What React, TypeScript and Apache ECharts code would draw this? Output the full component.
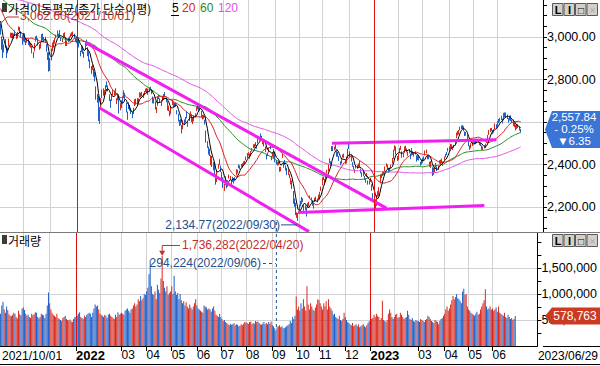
import React, { useEffect, useRef } from "react";
import * as echarts from "echarts";

// ---- categories: KRX trading days (weekends and these market holidays excluded)
const holidays = [
  "2021/10/04", "2021/10/11", "2021/12/31",
  "2022/01/31", "2022/02/01", "2022/02/02", "2022/03/01", "2022/03/09", "2022/05/05",
  "2022/06/01", "2022/06/06", "2022/08/15", "2022/09/09", "2022/09/12", "2022/10/03",
  "2022/10/10", "2022/12/30",
  "2023/01/23", "2023/01/24", "2023/03/01", "2023/05/01", "2023/05/05", "2023/05/29", "2023/06/06",
];
const firstDay = [2021, 10, 1];
const lastDay = [2023, 6, 29];
const padSlots = 18;

// closes before the visible range (used only for the moving averages)
const preCloses = [
  3135, 3169, 3182, 3194, 3198, 3198, 3220, 3171, 3177, 3186, 3217, 3215, 3181, 3174, 3147,
  3127, 3147, 3178, 3197, 3249, 3209, 3161, 3122, 3153, 3134, 3173, 3162, 3156, 3144, 3133, 3165, 3188, 3204, 3210,
  3221, 3224, 3247, 3240, 3252, 3247, 3216, 3224, 3249, 3258, 3278, 3264, 3267, 3268, 3240, 3264, 3276, 3286, 3302, 3296, 3286, 3296,
  3282, 3281, 3293, 3305, 3285, 3252, 3217, 3246, 3271, 3264, 3286, 3276, 3244, 3232, 3215, 3250, 3254, 3224, 3232, 3236, 3243, 3202,
  3223, 3237, 3280, 3276, 3270, 3270, 3260, 3243, 3208, 3171, 3143, 3158, 3097, 3060, 3090, 3138, 3128, 3133, 3148, 3144, 3172, 3199,
  3207, 3175, 3201, 3203, 3187, 3162, 3114, 3125, 3127, 3148, 3130, 3140, 3127, 3125, 3128, 3133, 3097, 3060, 3068,
];

// [open, close, low, high]
const ohlc2021 = [
  [3053,3019,3011,3062.6],[2995,2962,2940,3003],[2973,2908,2901,2990],[2933,2959,2927,2965],[2975,2956,2950,2990],
  [2957,2916,2901,2960],[2931,2944,2924,2950],[2959,2988,2956,2992],[3003,3015,2997,3020],[3016,3006,2994,3020],
  [3008,3013,2996,3020],[3004,3013,2990,3016],[3018,3007,3003,3031],[3005,3006,2990,3016],[3002,3020,2994,3024],
  [3037,3049,3030,3050],[3047,3025,3017,3047],[3019,3009,2999,3027],[3003,2970,2963,3008],
  [2982,3013,2979,3019],[3013,2976,2975,3017],[2979,2975,2962,2984],[2982,2983,2973,2995],[2990,2969,2962,2991],
  [2975,2960,2955,2980],[2958,2962,2950,2972],[2956,2930,2923,2959],[2920,2924,2901,2930],[2935,2968,2932,2972],
  [2983,2999,2978,3003],[3004,2997,2988,3007],[2990,2962,2960,2994],[2956,2947,2940,2966],[2958,2971,2946,2974],
  [2980,3013,2977,3014],[3011,2997,2984,3016],[2993,2994,2978,3000],[2999,2980,2972,3001],[2964,2936,2931,2966],
  [2910,2909,2892,2928],[2915,2839,2837,2928],
  [2850,2899,2840,2902],[2901,2945,2890,2946],[2950,2968,2934,2974],[2970,2973,2950,2985],[2975,2991,2969,2995],
  [3010,3001,2993,3011],[3004,3029,3003,3031],[3010,3010,2995,3016],[3020,3001,2998,3033],[2995,2987,2981,3000],
  [2988,2989,2976,2993],[3004,3006,2998,3018],[3008,3017,2999,3022],[2998,2963,2957,2998],[2960,2975,2958,2982],
  [2985,2984,2976,2996],[2989,2998,2980,3003],[3006,3012,3000,3016],[3008,3020,3004,3022],[3019,3020,3006,3026],
  [3014,2993,2993,3015],[2990,2977,2976,2995],
];
const ohlc2022 = [
  [2995,2989,2971,2995],[2990,2990,2976,2998],[2986,2953,2951,2986],[2935,2920,2909,2935],[2933,2954,2929,2962],
  [2952,2927,2921,2953],[2920,2927,2902,2931],[2943,2972,2939,2975],[2977,2962,2958,2988],[2950,2921,2910,2952],
  [2921,2890,2885,2932],[2883,2864,2853,2894],[2852,2842,2826,2863],[2857,2862,2845,2870],[2847,2834,2813,2850],
  [2829,2792,2791,2836],[2767,2720,2705,2768],[2730,2709,2691,2732],[2719,2614,2605,2722],[2598,2663,2591,2670],
  [2672,2707,2670,2712],[2717,2750,2713,2753],[2752,2745,2724,2758],[2740,2746,2727,2750],[2752,2768,2745,2773],
  [2782,2771,2763,2791],[2761,2747,2744,2772],[2720,2704,2699,2730],[2701,2676,2667,2706],[2704,2729,2699,2733],
  [2738,2744,2727,2753],[2735,2744,2726,2748],[2742,2743,2732,2759],[2703,2706,2684,2712],[2713,2719,2702,2729],
  [2709,2648,2640,2719],[2663,2676,2655,2689],[2671,2699,2666,2702],
  [2709,2703,2687,2718],[2716,2747,2712,2749],[2726,2713,2706,2737],[2683,2651,2645,2690],[2638,2622,2610,2649],
  [2682,2680,2661,2693],[2670,2661,2653,2680],[2650,2645,2637,2664],[2634,2622,2618,2647],[2650,2659,2637,2667],
  [2681,2694,2675,2707],[2690,2707,2681,2710],[2703,2686,2681,2712],[2698,2708,2688,2711],[2721,2736,2715,2740],
  [2723,2729,2715,2738],[2737,2730,2721,2742],[2718,2729,2713,2735],[2730,2741,2726,2746],[2756,2746,2741,2757],
  [2743,2757,2735,2760],
  [2752,2739,2728,2757],[2748,2757,2740,2763],[2761,2759,2750,2766],[2746,2736,2731,2752],[2718,2695,2688,2720],
  [2702,2700,2687,2711],[2691,2666,2659,2697],[2658,2666,2642,2671],[2681,2716,2676,2719],[2723,2716,2708,2727],
  [2707,2696,2690,2712],[2690,2693,2675,2698],[2700,2718,2697,2722],[2708,2718,2704,2731],[2733,2728,2721,2741],
  [2715,2704,2693,2716],[2697,2657,2654,2698],[2660,2668,2651,2677],[2650,2639,2627,2654],[2642,2667,2636,2673],
  [2686,2695,2680,2703],
  [2685,2688,2669,2693],[2681,2680,2669,2690],[2688,2677,2672,2690],[2645,2644,2636,2656],[2633,2610,2603,2640],
  [2598,2596,2582,2610],[2603,2592,2584,2613],[2573,2550,2546,2586],[2566,2604,2566,2608],[2608,2596,2586,2612],
  [2601,2620,2596,2624],[2636,2625,2617,2648],[2589,2592,2577,2600],[2611,2639,2605,2640],[2635,2647,2627,2650],
  [2635,2605,2600,2637],[2600,2617,2590,2620],[2626,2612,2603,2631],[2627,2638,2622,2641],[2655,2670,2651,2673],
  [2672,2685,2660,2689],
  [2664,2658,2652,2673],[2672,2670,2657,2681],[2646,2626,2622,2653],[2625,2626,2612,2633],[2622,2625,2615,2634],
  [2604,2595,2588,2611],[2557,2504,2503,2560],[2487,2492,2478,2510],[2477,2447,2447,2484],[2465,2451,2440,2474],
  [2405,2440,2396,2444],[2438,2391,2388,2440],[2392,2408,2372,2411],[2401,2342,2342,2410],[2333,2314,2305,2354],
  [2329,2366,2318,2368],[2392,2401,2380,2403],[2400,2422,2397,2425],[2383,2377,2365,2395],[2360,2332,2325,2365],
  [2334,2305,2289,2340],[2296,2300,2276,2310],[2310,2341,2304,2344],[2317,2292,2288,2325],[2300,2324,2295,2326],
  [2338,2350,2334,2353],[2336,2340,2327,2346],[2319,2317,2305,2328],[2333,2328,2318,2342],[2320,2322,2310,2336],
  [2333,2330,2322,2340],[2352,2376,2350,2378],[2360,2370,2358,2376],[2396,2386,2383,2400],[2386,2393,2377,2396],
  [2401,2393,2388,2403],[2393,2404,2384,2406],[2398,2412,2396,2415],[2410,2415,2402,2418],[2434,2435,2420,2438],
  [2440,2451,2430,2454],
  [2450,2452,2442,2458],[2441,2439,2427,2452],[2446,2461,2438,2463],[2470,2473,2461,2477],[2481,2490,2477,2495],
  [2483,2493,2479,2497],[2490,2503,2487,2505],[2485,2480,2474,2491],[2500,2523,2499,2526],[2520,2527,2512,2530],
  [2536,2533,2521,2546],[2528,2516,2511,2535],[2507,2508,2495,2512],[2510,2492,2485,2512],[2474,2462,2458,2485],
  [2442,2435,2424,2449],[2450,2447,2440,2457],[2458,2477,2457,2478],[2482,2481,2472,2489],[2432,2426,2420,2441],
  [2441,2450,2436,2456],[2435,2472,2429,2473],
  [2459,2415,2410,2461],[2413,2409,2400,2421],[2407,2403,2395,2412],[2404,2410,2396,2416],[2383,2376,2366,2389],
  [2381,2384,2368,2389],[2437,2449,2431,2450],[2390,2411,2385,2412],[2419,2401,2397,2421],[2388,2382,2371,2396],
  [2371,2355,2350,2384],[2366,2367,2350,2377],[2349,2347,2336,2355],[2314,2332,2306,2337],[2324,2290,2285,2325],
  [2274,2220,2215,2275],[2225,2223,2201,2240],[2210,2169,2162,2220],[2155,2170,2149,2175],[2169,2155,2134.77,2172],
  [2184,2209,2182,2212],[2218,2215,2203,2229],[2215,2237,2213,2247],[2233,2232,2224,2241],[2198,2192,2182,2210],
  [2190,2202,2185,2207],[2195,2162,2155,2199],[2200,2212,2196,2219],[2207,2219,2203,2225],[2241,2249,2239,2254],
  [2232,2237,2226,2245],[2220,2218,2206,2232],[2197,2213,2192,2219],[2231,2236,2224,2243],[2241,2235,2229,2249],
  [2229,2235,2222,2240],[2245,2246,2236,2258],[2250,2268,2243,2272],[2281,2293,2276,2296],
  [2306,2335,2303,2339],[2335,2337,2327,2343],[2307,2329,2305,2332],[2326,2348,2318,2352],[2361,2371,2358,2375],
  [2370,2399,2368,2403],[2410,2424,2406,2429],[2411,2402,2393,2415],[2469,2483,2463,2487],[2474,2474,2463,2486],
  [2477,2480,2467,2485],[2490,2477,2471,2495],[2462,2442,2437,2465],[2449,2444,2436,2459],[2438,2419,2417,2440],
  [2410,2405,2397,2415],[2412,2418,2404,2425],[2437,2441,2432,2447],[2446,2437,2432,2451],[2418,2408,2402,2421],
  [2410,2433,2405,2437],[2437,2472,2432,2474],
  [2486,2479,2473,2501],[2458,2434,2431,2462],[2436,2419,2414,2444],[2404,2393,2390,2411],[2386,2382,2376,2394],
  [2370,2371,2361,2378],[2384,2389,2381,2395],[2389,2390,2380,2398],[2393,2399,2386,2405],[2410,2389,2387,2417],
  [2377,2361,2358,2381],[2347,2360,2342,2363],[2358,2353,2345,2368],[2340,2333,2328,2346],[2327,2328,2314,2334],
  [2347,2356,2343,2360],[2318,2313,2305,2325],[2317,2317,2306,2326],[2330,2332,2318,2338],[2300,2280,2276,2307],
  [2260,2236,2232,2265],
];
const ohlc2023 = [
  [2249,2225,2219,2253],[2232,2218,2190,2236],[2212,2255,2205,2256],[2263,2264,2249,2275],[2253,2289,2250,2293],
  [2312,2350,2311,2353],[2344,2351,2336,2356],[2356,2359,2346,2367],[2356,2365,2350,2369],[2370,2386,2366,2391],
  [2394,2400,2389,2406],[2395,2379,2375,2399],[2380,2368,2362,2385],[2373,2380,2367,2385],[2385,2395,2381,2399],
  [2405,2428,2404,2431],[2430,2468,2427,2470],[2471,2484,2466,2490],[2481,2450,2447,2486],[2435,2425,2417,2440],
  [2424,2449,2420,2451],[2466,2468,2455,2478],[2477,2480,2469,2488],[2457,2438,2432,2462],[2440,2451,2434,2455],
  [2459,2483,2455,2485],[2478,2481,2467,2489],[2462,2469,2457,2475],[2451,2453,2441,2461],[2463,2465,2453,2471],
  [2450,2428,2425,2452],[2444,2475,2443,2478],[2454,2451,2444,2463],[2446,2455,2437,2459],[2456,2458,2447,2462],
  [2441,2417,2413,2443],[2427,2439,2421,2442],[2441,2423,2419,2446],[2407,2402,2395,2413],[2410,2412,2400,2423],
  [2421,2420,2408,2431],[2425,2432,2420,2438],[2447,2462,2443,2466],[2463,2463,2453,2470],[2437,2431,2424,2442],
  [2436,2432,2425,2441],[2409,2394,2390,2413],[2400,2410,2384,2416],[2385,2348,2346,2387],[2366,2379,2351,2385],
  [2370,2377,2361,2387],[2396,2395,2386,2407],[2386,2379,2369,2391],[2383,2388,2374,2393],[2410,2417,2404,2420],
  [2404,2416,2400,2422],[2421,2414,2407,2428],[2404,2409,2393,2414],[2420,2434,2418,2437],[2446,2443,2434,2450],
  [2455,2453,2444,2459],[2462,2476,2461,2478],
  [2469,2480,2465,2485],[2479,2495,2474,2497],[2485,2490,2475,2495],[2475,2478,2468,2483],[2485,2490,2478,2493],
  [2494,2512,2490,2514],[2525,2547,2524,2550],[2542,2550,2537,2557],[2548,2561,2541,2563],[2570,2571,2560,2578],
  [2577,2575,2567,2583],[2579,2575,2566,2586],[2575,2563,2557,2580],[2551,2544,2534,2556],[2548,2544,2536,2553],
  [2535,2523,2513,2540],[2515,2489,2486,2521],[2478,2485,2468,2490],[2481,2495,2476,2500],[2497,2501,2487,2507],
  [2505,2513,2499,2516],[2508,2500,2494,2510],[2507,2501,2497,2511],[2507,2510,2500,2517],[2507,2511,2502,2517],
  [2502,2496,2491,2505],[2494,2491,2487,2501],[2485,2475,2469,2490],[2476,2479,2469,2484],[2487,2480,2476,2491],
  [2483,2494,2477,2498],[2506,2515,2502,2519],[2523,2537,2519,2539],[2543,2557,2539,2562],[2560,2567,2553,2571],
  [2568,2565,2557,2572],[2557,2554,2543,2562],[2559,2558,2550,2566],[2572,2585,2567,2593],[2582,2577,2570,2590],
  [2585,2601,2578,2604],[2611,2601,2595,2614],[2615,2615,2601,2620],[2622,2615,2609,2630],[2612,2601,2593,2616],
  [2611,2641,2608,2643],[2640,2629,2622,2645],[2628,2637,2620,2645],[2632,2619,2614,2635],[2610,2608,2596,2618],
  [2617,2625,2607,2630],[2627,2609,2605,2631],[2606,2604,2596,2612],[2610,2582,2580,2612],[2585,2591,2576,2596],
  [2580,2570,2561,2588],[2571,2582,2566,2587],[2581,2582,2572,2590],[2577,2564.19,2560,2580],[2563,2557.84,2551,2567],
];

// volume, thousands of shares x1000 (i.e. value 578.763 -> 578,763)
const vol2021 = [
  620, 780, 850, 700, 640, 760, 690, 610, 580, 570, 600, 640, 620, 560, 530, 680, 610, 590, 720,
  740, 690, 620, 580, 600, 560, 540, 620, 590, 610, 650, 640, 560, 530, 560, 620, 600, 590, 540, 620, 780, 1030,
  820, 700, 640, 600, 580, 560, 620, 540, 520, 500, 480, 540, 560, 580, 520, 500, 490, 510, 470, 460, 520, 560,
];
const vol2022 = [
  560, 580, 620, 650, 560, 540, 520, 580, 560, 600, 620, 640, 620, 560, 640, 720, 800, 760, 780, 700,
  620, 600, 580, 560, 600, 580, 540, 600, 620, 580, 560, 540, 520, 600, 560, 650, 600, 620,
  640, 620, 600, 680, 700, 720, 680, 640, 700, 720, 780, 820, 760, 800, 900, 860, 960, 880, 920, 1000, 980,
  1050, 1120, 1380, 1650, 1150, 1000, 980, 1050, 900, 1180, 1080, 1020, 1300, 1736.282, 1250, 1120, 1050, 1150, 980, 1020, 1050,
  1150, 1000, 1350, 1050, 980, 1020, 900, 1000, 880, 820, 860, 780, 840, 760, 720, 800, 740, 700, 760, 820, 900,
  780, 720, 700, 680, 660, 640, 780, 760, 740, 700, 720, 700, 660, 720, 760, 680, 600, 580, 560, 620,
  560, 520, 480, 500, 460, 440, 420, 400, 430, 410, 420, 440, 400, 420, 410, 380, 390, 420, 400, 430, 460,
  450, 440, 430, 460, 470, 420, 440, 430, 480, 460, 470, 440, 420, 410, 430, 460, 420, 440, 420, 460, 430, 470,
  400, 380, 340, 294.224, 360, 380, 400, 360, 380, 350, 340, 360, 380, 400, 420, 480, 440, 560, 520, 580,
  950, 700, 760, 680, 820, 720, 900, 760, 680, 1150, 800, 700, 820, 760, 700, 680, 740, 800, 900,
  880, 820, 760, 700, 820, 760, 860, 700, 900, 760, 720, 680, 600, 620, 560, 540, 520, 580, 500, 480, 520, 640,
  560, 500, 460, 440, 420, 400, 440, 380, 400, 420, 380, 420, 360, 380, 400, 420, 380, 360, 400, 440, 480,
];
const vol2023 = [
  460, 520, 540, 600, 560, 620, 580, 560, 500, 540, 870, 500, 480, 460, 500, 620, 700, 640, 560, 520,
  560, 600, 620, 540, 560, 640, 600, 560, 520, 540, 560, 680, 600, 520, 500, 540, 480, 460, 500, 480,
  480, 460, 520, 500, 480, 460, 500, 520, 580, 560, 520, 480, 460, 440, 500, 480, 460, 420, 480, 520, 540, 580,
  620, 700, 760, 680, 720, 800, 880, 960, 900, 940, 1000, 920, 900, 860, 820, 1050, 1100, 980, 1000, 760,
  700, 680, 640, 620, 600, 580, 620, 660, 600, 620, 700, 760, 820, 880, 1090, 760, 700, 720, 760, 700,
  720, 680, 700, 740, 660, 760, 640, 620, 600, 580, 640, 560, 540, 600, 560, 520, 540, 500, 520, 578.763,
];

const maPeriods = [5, 20, 60, 120];
const maColors = ["#000000", "#d81e1e", "#1e8a1e", "#e050e8"];
const priceGridLines = [2200, 2400, 2600, 2800, 3000];
const priceLabels = [2200, 2400, 2800, 3000]; // 2,600.00 sits under the last-price tag
const priceMinor = [2100, 2150, 2200, 2250, 2300, 2350, 2400, 2450, 2500, 2550, 2600, 2650, 2700, 2750, 2800, 2850, 2900, 2950, 3000, 3050, 3100, 3150];
const volLabels = [500000, 1000000, 1500000];
const volMinor = [250000, 500000, 750000, 1000000, 1250000, 1500000, 1750000, 2000000];
const trendLines = [
  [["2022/01/12", 2975], ["2023/01/16", 2195]],
  [["2022/01/28", 2666], ["2022/10/17", 2084]],
  [["2022/11/11", 2500], ["2023/05/31", 2516]],
  [["2022/09/30", 2174], ["2023/05/16", 2207]],
];
const hiddenMonthLabels = ["2021/10", "2021/11", "2021/12", "2022/02", "2023/02"];
const maxPrice = { date: "2021/10/01", value: 3062.6, text: "3,062.60(2021/10/01)" };
const minPrice = { date: "2022/09/30", value: 2134.77, text: "2,134.77(2022/09/30)" };
const maxVol = { date: "2022/04/20", value: 1736282, text: "1,736,282(2022/04/20)" };
const minVol = { date: "2022/09/06", value: 294224, text: "294,224(2022/09/06)" };
const lastInfo = { price: "2,557.84", pct: "- 0.25%", chg: "▼6.35", vol: "578,763" };

const FONT = '"Liberation Sans", "DejaVu Sans", sans-serif';
const KFONT = '"Noto Sans CJK KR", sans-serif';
const UP = "#d8281c";
const DOWN = "#1f60c8";
const GRIDC = "#d2d2d2";

function tradingDays(): string[] {
  const hs = new Set(holidays);
  const out: string[] = [];
  let t = Date.UTC(firstDay[0], firstDay[1] - 1, firstDay[2]);
  const end = Date.UTC(lastDay[0], lastDay[1] - 1, lastDay[2]);
  while (t <= end) {
    const d = new Date(t);
    const wd = d.getUTCDay();
    const s = `${d.getUTCFullYear()}/${String(d.getUTCMonth() + 1).padStart(2, "0")}/${String(d.getUTCDate()).padStart(2, "0")}`;
    if (wd !== 0 && wd !== 6 && !hs.has(s)) out.push(s);
    t += 86400000;
  }
  return out;
}

function sma(all: number[], n: number, offset: number): number[] {
  const out: number[] = [];
  for (let i = offset; i < all.length; i++) {
    let s = 0;
    for (let k = i - n + 1; k <= i; k++) s += all[k];
    out.push(+(s / n).toFixed(2));
  }
  return out;
}

export default function App() {
  const ref = useRef<HTMLDivElement>(null);
  useEffect(() => {
    if (!ref.current) return;
    const chart = echarts.init(ref.current, undefined, { renderer: "svg" });
    const allDates = tradingDays();
    const ohlc = [...ohlc2021, ...ohlc2022, ...ohlc2023];
    const vols = [...vol2021, ...vol2022, ...vol2023].map((v) => Math.round(v * 1000));
    const n = Math.min(allDates.length, ohlc.length, vols.length);
    const dates = allDates.slice(0, n);
    const cats = [...dates];
    for (let i = 0; i < padSlots; i++) cats.push(" " + i);
    const candles = ohlc.slice(0, n);
    const closes = candles.map((r) => r[1]);
    const all = [...preCloses, ...closes];
    const mas = maPeriods.map((p) => sma(all, p, preCloses.length));

    const monthFirst: number[] = [];
    dates.forEach((d, i) => {
      if (i === 0 || d.slice(0, 7) !== dates[i - 1].slice(0, 7)) monthFirst.push(i);
    });
    const gridMonths = monthFirst.filter((i) => i > 0 && dates[i].slice(5, 7) !== "01").map((i) => dates[i]);
    const yearMonths = monthFirst.filter((i) => i > 0 && dates[i].slice(5, 7) === "01").map((i) => dates[i]);
    const labelIdx = new Set(monthFirst.filter((i) => !hiddenMonthLabels.includes(dates[i].slice(0, 7))));

    const volData = vols.slice(0, n).map((v, i) => ({
      value: v,
      itemStyle: { color: candles[i][1] >= candles[i][0] ? UP : DOWN },
    }));

    const ml = (data: any[], color: string, z: number) => ({
      silent: true,
      symbol: ["none", "none"],
      label: { show: false },
      lineStyle: { color, width: 1, type: "solid" },
      emphasis: { disabled: true },
      data,
      z,
    });
    const hidden = { lineStyle: { opacity: 0 }, symbol: "none", silent: true };

    const option: any = {
      animation: false,
      backgroundColor: "#ffffff",
      grid: [
        { left: 0, right: 57, top: 0, height: 232 },
        { left: 0, right: 57, top: 233, height: 113 },
      ],
      xAxis: [
        { type: "category", gridIndex: 0, data: cats, boundaryGap: true, show: false },
        {
          type: "category", gridIndex: 1, data: cats, boundaryGap: true,
          axisLine: { show: true, lineStyle: { color: "#000", width: 1 } },
          axisTick: { show: true, interval: (i: number) => labelIdx.has(i), alignWithLabel: true, length: 5, lineStyle: { color: "#000" } },
          axisLabel: {
            interval: (i: number) => labelIdx.has(i),
            formatter: (v: string) => (v.slice(5, 7) === "01" ? `{y|${v.slice(0, 4)}}` : v.slice(5, 7)),
            align: "left", margin: 3, fontSize: 12, fontFamily: FONT, color: "#000",
            rich: { y: { fontWeight: "bold", fontSize: 13, fontFamily: FONT, color: "#000" } },
          },
          splitLine: { show: false },
        },
      ],
      yAxis: [
        {
          type: "value", gridIndex: 0, position: "right", min: 2082.4, max: 3174.1,
          axisLine: { show: true, lineStyle: { color: "#000" } },
          axisTick: { show: true, customValues: priceMinor, length: 4, lineStyle: { color: "#000" } },
          axisLabel: {
            customValues: priceLabels, margin: 4, fontSize: 12.5, fontFamily: FONT, color: "#000",
            formatter: (v: number) => v.toLocaleString("en-US", { minimumFractionDigits: 2, maximumFractionDigits: 2 }),
          },
          splitLine: { show: false },
        },
        {
          type: "value", gridIndex: 1, position: "right", min: 0, max: 2173077,
          axisLine: { show: true, lineStyle: { color: "#000" } },
          axisTick: { show: true, customValues: volMinor, length: 4, lineStyle: { color: "#000" } },
          axisLabel: {
            customValues: volLabels, margin: 4, fontSize: 12.5, fontFamily: FONT, color: "#000",
            formatter: (v: number) => v.toLocaleString("en-US"),
          },
          splitLine: { show: false },
        },
      ],
      series: [
        {
          type: "line", xAxisIndex: 0, yAxisIndex: 0, data: closes, z: 0, ...hidden,
          markLine: ml([...gridMonths.map((d) => ({ xAxis: d })), ...priceGridLines.map((v) => ({ yAxis: v }))], GRIDC, 0),
        },
        {
          type: "line", xAxisIndex: 1, yAxisIndex: 1, data: vols.slice(0, n), z: 0, ...hidden,
          markLine: ml([...gridMonths.map((d) => ({ xAxis: d })), ...volLabels.map((v) => ({ yAxis: v }))], GRIDC, 0),
        },
        {
          type: "candlestick", xAxisIndex: 0, yAxisIndex: 0, data: candles, barWidth: 1, z: 2,
          itemStyle: { color: UP, color0: DOWN, borderColor: UP, borderColor0: DOWN, borderWidth: 1 },
        },
        ...mas.map((m, k) => ({
          type: "line", xAxisIndex: 0, yAxisIndex: 0, data: m, symbol: "none", z: 3 + (3 - k) * 0.1,
          lineStyle: { color: maColors[k], width: 1 }, silent: true,
        })),
        ...trendLines.map((tl) => ({
          type: "line", xAxisIndex: 0, yAxisIndex: 0, data: tl, symbol: "none", z: 5,
          lineStyle: { color: "#f020f0", width: 3 }, silent: true,
        })),
        {
          type: "bar", xAxisIndex: 1, yAxisIndex: 1, data: volData, barWidth: 1, z: 2,
        },
        {
          type: "line", xAxisIndex: 0, yAxisIndex: 0, data: closes, z: 6, ...hidden,
          markLine: ml(yearMonths.map((d) => ({ xAxis: d })), "#e01010", 6),
        },
        {
          type: "line", xAxisIndex: 1, yAxisIndex: 1, data: vols.slice(0, n), z: 6, ...hidden,
          markLine: ml(yearMonths.map((d) => ({ xAxis: d })), "#e01010", 6),
        },
      ],
    };
    chart.setOption(option);

    const px = (g: number, d: string, v: number) => chart.convertToPixel({ gridIndex: g } as any, [dates.indexOf(d), v]) as number[];
    const T = (x: number, y: number, text: string, fill: string, o: any = {}) => ({
      type: "text", x, y, z: 100,
      style: {
        text, fill, fontSize: o.size || 12, fontFamily: o.font || FONT, fontWeight: o.weight || "normal",
        align: o.align || "left", verticalAlign: "middle", textAlign: o.align || "left", textVerticalAlign: "middle",
      },
    });
    const L = (x1: number, y1: number, x2: number, y2: number, stroke: string, w = 1, dash?: number[]) => ({
      type: "line", z: 100, shape: { x1, y1, x2, y2 }, style: { stroke, lineWidth: w, lineDash: dash },
    });
    const buttons = (y0: number) => {
      const out: any[] = [];
      const glyphs = ["L", "I", "□", "×"];
      glyphs.forEach((g, k) => {
        const x = 552 + k * 11.5;
        out.push({ type: "rect", z: 100, shape: { x: x + 0.5, y: y0 + 0.5, width: 10.5, height: 12 }, style: { fill: "#d4d0c8", stroke: "#5a5a5a", lineWidth: 1 } });
        out.push({ type: "text", z: 101, x: x + 6, y: y0 + 7, style: { text: g, fill: k === 3 ? "#a8a8a8" : "#000", fontSize: k === 2 ? 10 : 11, fontWeight: k < 2 ? "bold" : "normal", fontFamily: FONT, align: "center", verticalAlign: "middle", textAlign: "center", textVerticalAlign: "middle" } });
      });
      return out;
    };

    const G: any[] = [];
    // frame lines
    G.push(L(0, 232.5, 600, 232.5, "#7a7a7a"));
    G.push(L(543, 346.5, 600, 346.5, "#000"));
    G.push(L(0, 364.5, 600, 364.5, "#000"));
    // headers
    G.push({ type: "rect", z: 100, shape: { x: 2, y: 3, width: 5, height: 9 }, style: { fill: "#3c3c3c" } });
    G.push(T(8, 8, "가격이동평균(종가 단순이평)", "#000", { font: KFONT }));
    G.push(T(172, 8, "5", "#000"));
    G.push(L(171, 15.5, 179, 15.5, "#000"));
    G.push(T(182, 8, "20", maColors[1]));
    G.push(T(200, 8, "60", maColors[2]));
    G.push(T(218, 8, "120", maColors[3]));
    G.push({ type: "rect", z: 100, shape: { x: 2, y: 235, width: 5, height: 9 }, style: { fill: "#3c3c3c" } });
    G.push(T(8, 240, "거래량", "#000", { font: KFONT }));
    G.push(...buttons(3), ...buttons(234));

    // max price note
    const pMax = px(0, maxPrice.date, maxPrice.value);
    G.push({ type: "polyline", z: 100, shape: { points: [[pMax[0], pMax[1]], [7, 17], [19, 17]] }, style: { stroke: "#c0302a", lineWidth: 1, fill: null } });
    G.push(T(20, 16, maxPrice.text, "#c0302a"));
    // min price note
    const pMin = px(0, minPrice.date, minPrice.value);
    const my = pMin[1] + 4;
    G.push(T(280, my, minPrice.text, "#24508e", { align: "right" }));
    G.push(L(281, my, pMin[0] - 1, my, "#24508e"));
    // max volume note
    const vMax = px(1, maxVol.date, maxVol.value);
    G.push({ type: "polyline", z: 100, shape: { points: [[vMax[0], vMax[1] - 3], [vMax[0], 245.5], [180, 245.5]] }, style: { stroke: "#c0302a", lineWidth: 1, fill: null } });
    G.push({ type: "polygon", z: 100, shape: { points: [[vMax[0] - 3, vMax[1] - 5], [vMax[0] + 3, vMax[1] - 5], [vMax[0], vMax[1]]] }, style: { fill: "#c0302a" } });
    G.push(T(182, 245, maxVol.text, "#c0302a"));
    // min volume note
    const vMin = px(1, minVol.date, minVol.value);
    G.push(T(261, 263, minVol.text, "#24508e", { align: "right" }));
    G.push(L(263, 263.5, vMin[0], 263.5, "#24508e", 1, [3, 3]));
    G.push(L(vMin[0] + 0.5, 222, vMin[0] + 0.5, vMin[1], "#24508e", 1, [3, 3]));

    // last price tag
    const pLast = px(0, dates[n - 1], closes[n - 1]);
    const ty = pLast[1] - 20;
    G.push({ type: "polygon", z: 100, shape: { points: [[545, pLast[1] - 1.5], [552, ty], [600, ty], [600, ty + 37], [552, ty + 37]] }, style: { fill: "#3a74d6" } });
    G.push(T(574, ty + 6.5, lastInfo.price, "#fff", { align: "center", size: 11.5 }));
    G.push(T(574, ty + 18.5, lastInfo.pct, "#fff", { align: "center", size: 11.5 }));
    G.push(T(574, ty + 30.5, lastInfo.chg, "#fff", { align: "center", size: 11.5 }));
    // last volume tag
    const vLast = px(1, dates[n - 1], vols[n - 1]);
    G.push({ type: "polygon", z: 100, shape: { points: [[545, vLast[1]], [552, vLast[1] - 8.5], [600, vLast[1] - 8.5], [600, vLast[1] + 8.5], [552, vLast[1] + 8.5]] }, style: { fill: "#cc3a22" } });
    G.push(T(575, vLast[1], lastInfo.vol, "#fff", { align: "center" }));

    // date labels at both ends
    G.push(T(2, 356, dates[0], "#000"));
    G.push(T(598, 356, dates[n - 1], "#000", { align: "right" }));

    chart.setOption({ graphic: G });
    return () => chart.dispose();
  }, []);
  return <div ref={ref} style={{ width: 600, height: 366, position: "absolute", left: 0, top: 0 }} />;
}
